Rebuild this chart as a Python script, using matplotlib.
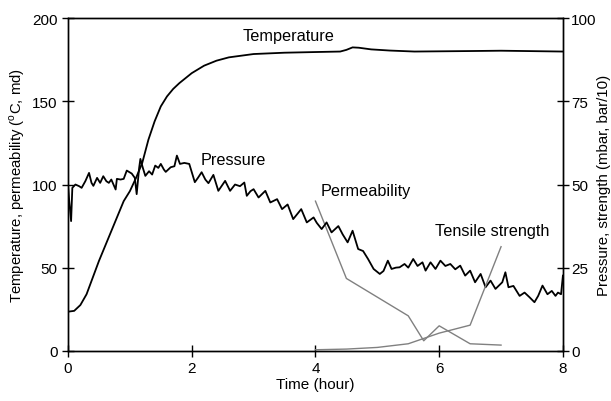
import matplotlib
matplotlib.use("Agg")
import matplotlib.pyplot as plt

plt.rcParams['font.family'] = ['Liberation Sans', 'DejaVu Sans']
plt.rcParams['mathtext.fontset'] = 'custom'
plt.rcParams['mathtext.rm'] = 'Liberation Sans'

# temperature (left axis, deg C)
temp_t = [0.0, 0.1, 0.2, 0.3, 0.4, 0.5, 0.6, 0.7, 0.8, 0.9, 1.0, 1.1, 1.2, 1.3, 1.4,
          1.5, 1.6, 1.7, 1.8, 1.9, 2.0, 2.2, 2.4, 2.6, 2.8, 3.0, 3.5, 4.0, 4.4, 4.5,
          4.6, 4.7, 4.9, 5.2, 5.6, 6.5, 7.0, 8.0]
temp = [23.5, 24, 27.5, 34, 44, 54, 63, 72, 81, 90, 96, 104, 113, 127, 138,
        147, 153, 157.5, 161, 164, 167, 171.5, 174.5, 176.5, 177.5, 178.5, 179.3, 179.7, 180, 181,
        182.5, 182.3, 181.3, 180.6, 180, 180.3, 180.5, 180]

# pressure (right axis, mbar)
pres_t = [0.00, 0.02, 0.05, 0.07, 0.12, 0.18, 0.22, 0.28, 0.34, 0.38, 0.41, 0.47, 0.52, 0.57,
          0.62, 0.66, 0.70, 0.77, 0.79, 0.85, 0.90, 0.95, 1.03, 1.08, 1.11, 1.15, 1.17, 1.21,
          1.25, 1.31, 1.36, 1.41, 1.46, 1.50, 1.55, 1.58, 1.66, 1.72, 1.76, 1.81, 1.88, 1.96,
          2.05, 2.10, 2.16, 2.22, 2.27, 2.35, 2.43, 2.54, 2.62, 2.70, 2.78, 2.85, 2.89, 2.95,
          3.00, 3.08, 3.19, 3.27, 3.38, 3.46, 3.55, 3.64, 3.77, 3.86, 3.97, 4.02, 4.10, 4.18,
          4.26, 4.37, 4.44, 4.52, 4.60, 4.69, 4.77, 4.85, 4.94, 5.04, 5.10, 5.17, 5.23, 5.30,
          5.36, 5.44, 5.50, 5.58, 5.65, 5.73, 5.78, 5.86, 5.94, 6.02, 6.10, 6.18, 6.26, 6.34,
          6.42, 6.50, 6.58, 6.67, 6.75, 6.83, 6.91, 7.02, 7.07, 7.12, 7.20, 7.30, 7.38, 7.46,
          7.54, 7.60, 7.67, 7.75, 7.82, 7.88, 7.92, 7.97, 8.00]
pres = [50.1, 45, 39, 49, 50, 49.5, 49, 51, 53.5, 50.5, 49.6, 52, 50.5, 52.5,
        51, 50.5, 51.5, 48.5, 51.7, 51.5, 51.7, 54.2, 53.3, 52, 47.1, 55, 57.7, 55,
        52.6, 54, 53, 55.7, 55, 56.2, 54.5, 53.8, 55.2, 55.5, 58.7, 56.2, 56.5, 56.2,
        50.7, 52, 53.7, 51.5, 50.4, 52.9, 48.1, 51.1, 48.1, 50, 49.5, 50.6, 46.6, 48,
        48.6, 46.1, 48.1, 44.6, 45.6, 42.6, 44, 39.6, 42.6, 38.6, 40.1, 38.5, 36.6, 38.6,
        35.6, 37.5, 35, 32.6, 36.1, 30.6, 30, 27.6, 24.6, 23.1, 24, 27.1, 24.6, 25,
        25.1, 26.1, 25, 27.6, 25.5, 26.6, 24.1, 26.6, 24.6, 27.1, 25.5, 26.1, 24.5, 25.6,
        22.6, 24.1, 20.6, 23.1, 19.1, 21.1, 18.6, 20.6, 23.6, 19.1, 19.5, 16.5, 17.5, 16.1,
        14.6, 16.5, 19.6, 17, 18, 16.5, 17.5, 17, 22.6]

# permeability (left axis, md)
perm_t = [4.0, 4.5, 5.5, 5.75, 6.0, 6.5, 7.0]
perm = [90, 43.5, 21, 6, 15, 4.2, 3.4]

# tensile strength (right axis, bar/10)
tens_t = [4.0, 4.5, 5.0, 5.5, 6.0, 6.5, 7.0]
tens = [0.3, 0.5, 1.0, 2.1, 5.3, 7.7, 31.3]

fig = plt.figure(figsize=(6.11, 4.02), dpi=100)
ax = fig.add_axes([0.1113, 0.125, 0.81, 0.827])
ax2 = ax.twinx()

ax.plot(temp_t, temp, color='black', lw=1.3)
ax.plot(perm_t, perm, color='#808080', lw=1.0)
ax2.plot(pres_t, pres, color='black', lw=1.3)
ax2.plot(tens_t, tens, color='#808080', lw=1.0)

ax.set_xlim(0, 8)
ax.set_ylim(0, 200)
ax2.set_ylim(0, 100)
ax.set_xticks([0, 2, 4, 6, 8])
ax.set_yticks([0, 50, 100, 150, 200])
ax2.set_yticks([0, 25, 50, 75, 100])

for a in (ax, ax2):
    a.tick_params(direction='inout', length=8, width=1, labelsize=11)
    for s in a.spines.values():
        s.set_linewidth(1.0)
ax2.tick_params(pad=2)

ax.set_xlabel('Time (hour)', fontsize=11, labelpad=1)
ax.set_ylabel(r'Temperature, permeability ($^{\rm o}$C, md)', fontsize=10.7, labelpad=4)
ax2.set_ylabel('Pressure, strength (mbar, bar/10)', fontsize=10.8, labelpad=0)

ax.text(2.83, 189.5, 'Temperature', fontsize=11.7, va='center')
ax.text(2.14, 115.3, 'Pressure', fontsize=11.7, va='center')
ax.text(4.09, 96.7, 'Permeability', fontsize=11.7, va='center')
ax.text(5.94, 72.2, 'Tensile strength', fontsize=11.7, va='center')

fig.savefig('out.png', dpi=100)
